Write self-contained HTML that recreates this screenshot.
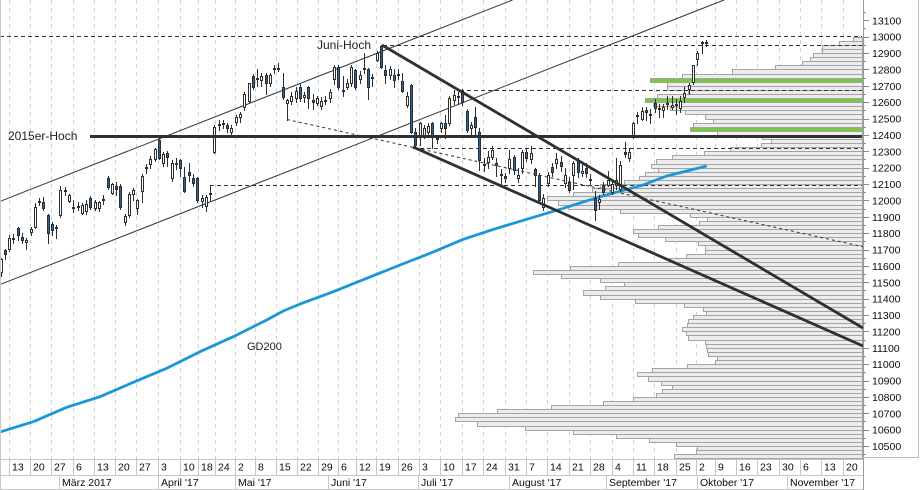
<!DOCTYPE html>
<html><head><meta charset="utf-8">
<style>
html,body{margin:0;padding:0;background:#fff;}
svg{display:block;font-family:"Liberation Sans",Arial,sans-serif;}
</style></head><body>
<svg id="c" xmlns="http://www.w3.org/2000/svg" width="920" height="490" viewBox="0 0 920 490">
<rect width="920" height="490" fill="#fff"/>
<defs><clipPath id="pc"><rect x="1" y="0" width="862" height="458"/></clipPath></defs>

<g id="grid" stroke="#d2d2d2" stroke-width="1" stroke-dasharray="4 4" shape-rendering="crispEdges">
<line x1="9.5" y1="0" x2="9.5" y2="459"/><line x1="30.5" y1="0" x2="30.5" y2="459"/><line x1="51.5" y1="0" x2="51.5" y2="459"/><line x1="73.5" y1="0" x2="73.5" y2="459"/><line x1="94.5" y1="0" x2="94.5" y2="459"/><line x1="115.5" y1="0" x2="115.5" y2="459"/><line x1="136.5" y1="0" x2="136.5" y2="459"/><line x1="158.5" y1="0" x2="158.5" y2="459"/><line x1="180.5" y1="0" x2="180.5" y2="459"/><line x1="198.5" y1="0" x2="198.5" y2="459"/><line x1="215.5" y1="0" x2="215.5" y2="459"/><line x1="235.5" y1="0" x2="235.5" y2="459"/><line x1="255.5" y1="0" x2="255.5" y2="459"/><line x1="276.5" y1="0" x2="276.5" y2="459"/><line x1="297.5" y1="0" x2="297.5" y2="459"/><line x1="318.5" y1="0" x2="318.5" y2="459"/><line x1="338.5" y1="0" x2="338.5" y2="459"/><line x1="356.5" y1="0" x2="356.5" y2="459"/><line x1="376.5" y1="0" x2="376.5" y2="459"/><line x1="398.5" y1="0" x2="398.5" y2="459"/><line x1="419.5" y1="0" x2="419.5" y2="459"/><line x1="440.5" y1="0" x2="440.5" y2="459"/><line x1="462.5" y1="0" x2="462.5" y2="459"/><line x1="483.5" y1="0" x2="483.5" y2="459"/><line x1="505.5" y1="0" x2="505.5" y2="459"/><line x1="526.5" y1="0" x2="526.5" y2="459"/><line x1="547.5" y1="0" x2="547.5" y2="459"/><line x1="569.5" y1="0" x2="569.5" y2="459"/><line x1="590.5" y1="0" x2="590.5" y2="459"/><line x1="612.5" y1="0" x2="612.5" y2="459"/><line x1="633.5" y1="0" x2="633.5" y2="459"/><line x1="654.5" y1="0" x2="654.5" y2="459"/><line x1="676.5" y1="0" x2="676.5" y2="459"/><line x1="696.5" y1="0" x2="696.5" y2="459"/><line x1="715.5" y1="0" x2="715.5" y2="459"/><line x1="736.5" y1="0" x2="736.5" y2="459"/><line x1="757.5" y1="0" x2="757.5" y2="459"/><line x1="779.5" y1="0" x2="779.5" y2="459"/><line x1="800.5" y1="0" x2="800.5" y2="459"/><line x1="821.5" y1="0" x2="821.5" y2="459"/><line x1="843.5" y1="0" x2="843.5" y2="459"/>
</g>

<g id="bars" shape-rendering="crispEdges" stroke="#a4a4a4" stroke-width="1"></g>

<g clip-path="url(#pc)" fill="none" stroke="#333">
  <line x1="0" y1="201.4" x2="512.5" y2="0" stroke-width="1"/>
  <line x1="0" y1="284.5" x2="724" y2="0" stroke-width="1"/>
  <g stroke-dasharray="4 3" stroke-width="1" shape-rendering="crispEdges">
    <line x1="0" y1="36.5" x2="862" y2="36.5"/>
    <line x1="383" y1="45.5" x2="862" y2="45.5"/>
    <line x1="460" y1="90.5" x2="862" y2="90.5"/>
    <line x1="413" y1="148.5" x2="862" y2="148.5"/>
    <line x1="210" y1="185.5" x2="862" y2="185.5"/>
  </g>
  <line x1="287" y1="119.5" x2="863" y2="246.7" stroke-dasharray="3 3" stroke-width="1"/>
  <polyline stroke="#1b97d6" stroke-width="2.8" stroke-linejoin="round" points="0,432 33.3,421.7 66.7,407.3 100,396.7 133.3,382.3 166.7,368.3 200,351.7 233.3,336.7 266.7,320 283.3,311 300,304 333.3,291.7 366.7,278.3 400,265 430,253.3 463.3,239.3 496.7,228.3 530,218.3 563.3,208.3 600,196.7 643,185 666.7,176 706.7,166"/>
</g>

<g id="cd" shape-rendering="crispEdges" stroke="#2e2e2e" stroke-width="1"></g>

<g clip-path="url(#pc)" fill="none" stroke="#303030">
  <line x1="90" y1="136.5" x2="862" y2="136.5" stroke-width="3"/>
  <line x1="382" y1="45" x2="863" y2="328" stroke-width="2.8"/>
  <line x1="413" y1="147" x2="863" y2="346" stroke-width="2.8"/>
</g>

<g fill="#1e1e1e">
  <text x="8" y="140" font-size="12">2015er-Hoch</text>
  <text x="317" y="49" font-size="12">Juni-Hoch</text>
  <text x="247" y="350" font-size="11">GD200</text>
</g>

<!-- right axis -->
<g shape-rendering="crispEdges">
  <line x1="863.5" y1="0" x2="863.5" y2="490" stroke="#9a9a9a"/>
  <line x1="918.5" y1="0" x2="918.5" y2="458" stroke="#bdbdbd"/>
  <line x1="863" y1="457.5" x2="919" y2="457.5" stroke="#bdbdbd"/>
  <line x1="0.5" y1="0" x2="0.5" y2="490" stroke="#c8c8c8"/>
</g>
<g id="ticks" stroke="#888" shape-rendering="crispEdges"></g>
<g fill="#0a0a14" font-size="10.5">
<text x="872" y="24.3">13100</text><text x="872" y="40.7">13000</text><text x="872" y="57">12900</text><text x="872" y="73.4">12800</text><text x="872" y="89.8">12700</text><text x="872" y="106.2">12600</text><text x="872" y="122.5">12500</text><text x="872" y="138.9">12400</text><text x="872" y="155.3">12300</text><text x="872" y="171.7">12200</text><text x="872" y="188">12100</text><text x="872" y="204.4">12000</text><text x="872" y="220.8">11900</text><text x="872" y="237.1">11800</text><text x="872" y="253.5">11700</text><text x="872" y="269.9">11600</text><text x="872" y="286.3">11500</text><text x="872" y="302.6">11400</text><text x="872" y="319">11300</text><text x="872" y="335.4">11200</text><text x="872" y="351.8">11100</text><text x="872" y="368.1">11000</text><text x="872" y="384.5">10900</text><text x="872" y="400.9">10800</text><text x="872" y="417.3">10700</text><text x="872" y="433.6">10600</text><text x="872" y="450">10500</text>
</g>

<!-- date axis -->
<g stroke="#c6c6c6" shape-rendering="crispEdges">
  <line x1="0" y1="459.5" x2="863" y2="459.5"/>
  <line x1="0" y1="475.5" x2="863" y2="475.5"/>
  <line x1="0" y1="489.5" x2="863" y2="489.5"/>
  <g id="wsep"></g>
  <line x1="59.5" y1="475" x2="59.5" y2="490"/><line x1="158.5" y1="475" x2="158.5" y2="490"/><line x1="235.5" y1="475" x2="235.5" y2="490"/><line x1="328.5" y1="475" x2="328.5" y2="490"/><line x1="418.5" y1="475" x2="418.5" y2="490"/><line x1="509.5" y1="475" x2="509.5" y2="490"/><line x1="606.5" y1="475" x2="606.5" y2="490"/><line x1="697.5" y1="475" x2="697.5" y2="490"/><line x1="787.5" y1="475" x2="787.5" y2="490"/>
</g>
<g fill="#0a0a14" font-size="10.5">
<text x="12" y="470.7">13</text><text x="33" y="470.7">20</text><text x="54" y="470.7">27</text><text x="76" y="470.7">6</text><text x="97" y="470.7">13</text><text x="118" y="470.7">20</text><text x="139" y="470.7">27</text><text x="161" y="470.7">3</text><text x="183" y="470.7">10</text><text x="201" y="470.7">18</text><text x="218" y="470.7">24</text><text x="238" y="470.7">2</text><text x="258" y="470.7">8</text><text x="279" y="470.7">15</text><text x="300" y="470.7">22</text><text x="321" y="470.7">29</text><text x="341" y="470.7">6</text><text x="359" y="470.7">12</text><text x="379" y="470.7">19</text><text x="401" y="470.7">26</text><text x="422" y="470.7">3</text><text x="443" y="470.7">10</text><text x="465" y="470.7">17</text><text x="486" y="470.7">24</text><text x="508" y="470.7">31</text><text x="529" y="470.7">7</text><text x="550" y="470.7">14</text><text x="572" y="470.7">21</text><text x="593" y="470.7">28</text><text x="615" y="470.7">4</text><text x="636" y="470.7">11</text><text x="657" y="470.7">18</text><text x="679" y="470.7">25</text><text x="699" y="470.7">2</text><text x="718" y="470.7">9</text><text x="739" y="470.7">16</text><text x="760" y="470.7">23</text><text x="782" y="470.7">30</text><text x="803" y="470.7">6</text><text x="824" y="470.7">13</text><text x="846" y="470.7">20</text>
<text x="62" y="486">März 2017</text><text x="161" y="486">April '17</text><text x="238" y="486">Mai '17</text><text x="331" y="486">Juni '17</text><text x="421" y="486">Juli '17</text><text x="512" y="486">August '17</text><text x="609" y="486">September '17</text><text x="700" y="486">Oktober '17</text><text x="790" y="486">November '17</text>
</g>
</svg>
<script>
(function(){
var NS='http://www.w3.org/2000/svg';
function el(p,tag,a){var e=document.createElementNS(NS,tag);for(var k in a)e.setAttribute(k,a[k]);p.appendChild(e);return e;}
var X=function(i){return 9.2+4.274*i;}, Y=function(v){return 20.3+(13100-v)*0.16373;};
// week separators in date row
var seps=[9.5,30.5,51.5,73.5,94.5,115.5,136.5,158.5,180.5,198.5,215.5,235.5,255.5,276.5,297.5,318.5,338.5,356.5,376.5,398.5,419.5,440.5,462.5,483.5,505.5,526.5,547.5,569.5,590.5,612.5,633.5,654.5,676.5,696.5,715.5,736.5,757.5,779.5,800.5,821.5,843.5];
var ws=document.getElementById('wsep');
seps.forEach(function(x){el(ws,'line',{x1:x,y1:459,x2:x,y2:476});});
// ticks
var tk=document.getElementById('ticks');
for(var v=13150;v>=10450;v-=50){var y=Math.round(Y(v))+0.5;var major=(v%100===0);el(tk,'line',{x1:863,y1:y,x2:major?869:866,y2:y});}
// volume profile bars
var L=[853,839,822,822,813,810,802,775,732,682,650,667,667,688,657,645,653,670,685,705,713,693,690,717,762,771,761,730,704,672,656,651,658,645,639,624,600,592,573,547,558,568,620,690,707,699,658,633,638,665,698,705,705,686,669,618,570,533,561,600,624,605,583,600,635,684,703,706,693,688,687,682,686,688,705,706,707,708,717,715,687,652,637,648,661,672,662,656,633,603,551,497,458,455,477,525,573,616,649,676,697,696,674];
var green={10:1,15:1,22:1};
var bg=document.getElementById('bars');
L.forEach(function(lx,k){var y0=Math.round(36.7+4.093*k),y1=Math.round(36.7+4.093*(k+1));
 el(bg,'rect',{x:lx+0.5,y:y0+0.5,width:862-lx,height:y1-y0,fill:green[k]?'#79c93e':'#ececec'});});
// candles [O,H,L,C] starting at index -2
var D=[[11560,11650,11540,11640],[11697,11705,11640,11672],
[11701,11790,11690,11772],[11768,11795,11740,11772],[11830,11840,11760,11787],[11778,11800,11740,11758],[11745,11770,11705,11757],
[11808,11840,11790,11828],[11840,11985,11830,11962],[11990,12014,11970,11998],[11992,12020,11940,11952],[11910,11915,11740,11800],
[11855,11870,11790,11822],[11830,11850,11770,11840],[11910,12090,11900,12065],[12065,12080,12030,12060],[11998,12040,11990,12033],
[11960,12000,11930,11958],[11965,11990,11940,11967],[11925,11985,11920,11970],[11935,12005,11920,11975],[12013,12025,11950,11962],
[11952,12000,11940,11992],[11955,11995,11935,11990],[12000,12030,11980,12009],[12135,12150,12070,12084],[12045,12105,12040,12100],
[12085,12110,12030,12070],[12085,12100,11950,11962],[11870,11920,11850,11905],[11910,12050,11900,12040],[12040,12075,12000,12064],
[11955,12010,11920,12000],[12058,12160,11990,12150],[12195,12220,12170,12204],[12222,12270,12200,12252],[12250,12318,12240,12312],
[12369,12390,12250,12257],[12227,12295,12210,12285],[12290,12300,12210,12267],[12135,12245,12120,12230],[12225,12260,12190,12228],
[12245,12255,12150,12200],[12145,12206,12050,12060],[12175,12230,12120,12155],[12135,12160,12090,12108],
[12135,12140,11990,12002],[11995,12030,11960,12016],[11967,12030,11935,12023],[12040,12095,12000,12048],
[12297,12460,12290,12450],[12460,12490,12430,12467],[12470,12490,12440,12473],[12460,12470,12420,12443],[12420,12460,12400,12444],
[12480,12520,12460,12510],[12510,12540,12480,12530],[12570,12660,12550,12650],[12605,12720,12600,12715],
[12760,12770,12680,12695],[12740,12800,12700,12749],[12735,12780,12700,12760],[12766,12780,12650,12715],[12715,12780,12700,12766],
[12800,12830,12780,12808],[12810,12840,12790,12804],[12695,12778,12620,12633],[12595,12620,12490,12615],[12610,12660,12590,12640],
[12627,12690,12600,12668],[12695,12710,12610,12625],[12630,12660,12600,12642],[12695,12700,12565,12625],[12615,12650,12560,12602],
[12595,12640,12580,12625],[12578,12630,12560,12605],[12610,12640,12590,12615],[12625,12680,12600,12664],[12740,12830,12710,12817],
[12817,12830,12680,12695],[12670,12760,12640,12675],[12694,12740,12680,12715],[12715,12825,12700,12817],
[12795,12800,12680,12695],[12740,12790,12720,12765],[12800,12900,12780,12806],[12800,12810,12620,12695],[12745,12770,12700,12752],
[12857,12910,12850,12900],[12943,12951,12810,12817],[12795,12830,12720,12765],[12765,12820,12740,12800],[12765,12800,12690,12735],
[12765,12800,12740,12771],[12732,12780,12660,12670],[12582,12660,12570,12640],[12705,12710,12410,12420],[12420,12440,12320,12338],
[12400,12480,12340,12470],[12400,12460,12380,12442],[12420,12475,12400,12455],[12470,12480,12320,12390],[12380,12400,12350,12383],
[12440,12480,12420,12470],[12470,12520,12380,12440],[12470,12640,12460,12625],[12615,12676,12590,12645],[12640,12660,12590,12632],
[12668,12680,12580,12600],[12545,12560,12420,12430],[12440,12480,12400,12460],[12510,12570,12400,12450],[12420,12440,12186,12247],
[12220,12260,12180,12222],[12233,12300,12200,12263],[12263,12330,12250,12305],[12230,12260,12150,12215],[12160,12190,12095,12155],
[12150,12165,12110,12135],[12196,12310,12170,12250],[12266,12280,12160,12185],[12135,12200,12110,12155],[12196,12310,12170,12297],
[12297,12320,12240,12257],[12250,12330,12230,12290],[12190,12200,12090,12155],[12155,12170,11990,12003],[11962,12040,11940,12013],
[12105,12175,12090,12155],[12202,12230,12150,12175],[12230,12290,12200,12250],[12237,12270,12180,12210],[12105,12200,12080,12155],
[12115,12140,12050,12065],[12155,12240,12070,12227],[12247,12260,12140,12175],[12170,12220,12150,12180],[12200,12230,12140,12167],
[12130,12160,12100,12123],[12013,12060,11880,11942],[11990,12030,11950,12010],[12094,12110,12040,12053],[12095,12180,12090,12125],
[12053,12110,12040,12100],[12095,12257,12070,12125],[12070,12240,12060,12215],[12295,12358,12267,12285],[12257,12320,12240,12297],
[12393,12480,12380,12470],[12515,12540,12470,12522],[12495,12570,12490,12545],[12550,12570,12490,12540],[12530,12560,12470,12525],
[12593,12620,12540,12562],[12560,12590,12510,12565],[12550,12590,12510,12570],[12590,12640,12560,12595],[12570,12640,12560,12585],
[12580,12620,12530,12590],[12562,12640,12540,12610],[12633,12690,12600,12655],[12678,12720,12650,12705],[12725,12830,12710,12827],
[12862,12910,12830,12900],[12960,12972,12900,12970],[12965,12980,12940,12968]];
var cg=document.getElementById('cd');
D.forEach(function(d,n){var i=n-2;var cx=Math.round(X(i));var o=d[0],h=d[1],l=d[2],c=d[3];
 el(cg,'line',{x1:cx+0.5,y1:Math.round(Y(h)),x2:cx+0.5,y2:Math.round(Y(l))+1});
 var t=Math.round(Math.min(Y(o),Y(c))),b=Math.round(Math.max(Y(o),Y(c)));if(b-t<1)b=t+1;
 el(cg,'rect',{x:cx-0.5,y:t+0.5,width:2,height:b-t,fill:(c>=o?'#ffffff':'#1f66a8')});
});
})();
</script>
</body></html>
